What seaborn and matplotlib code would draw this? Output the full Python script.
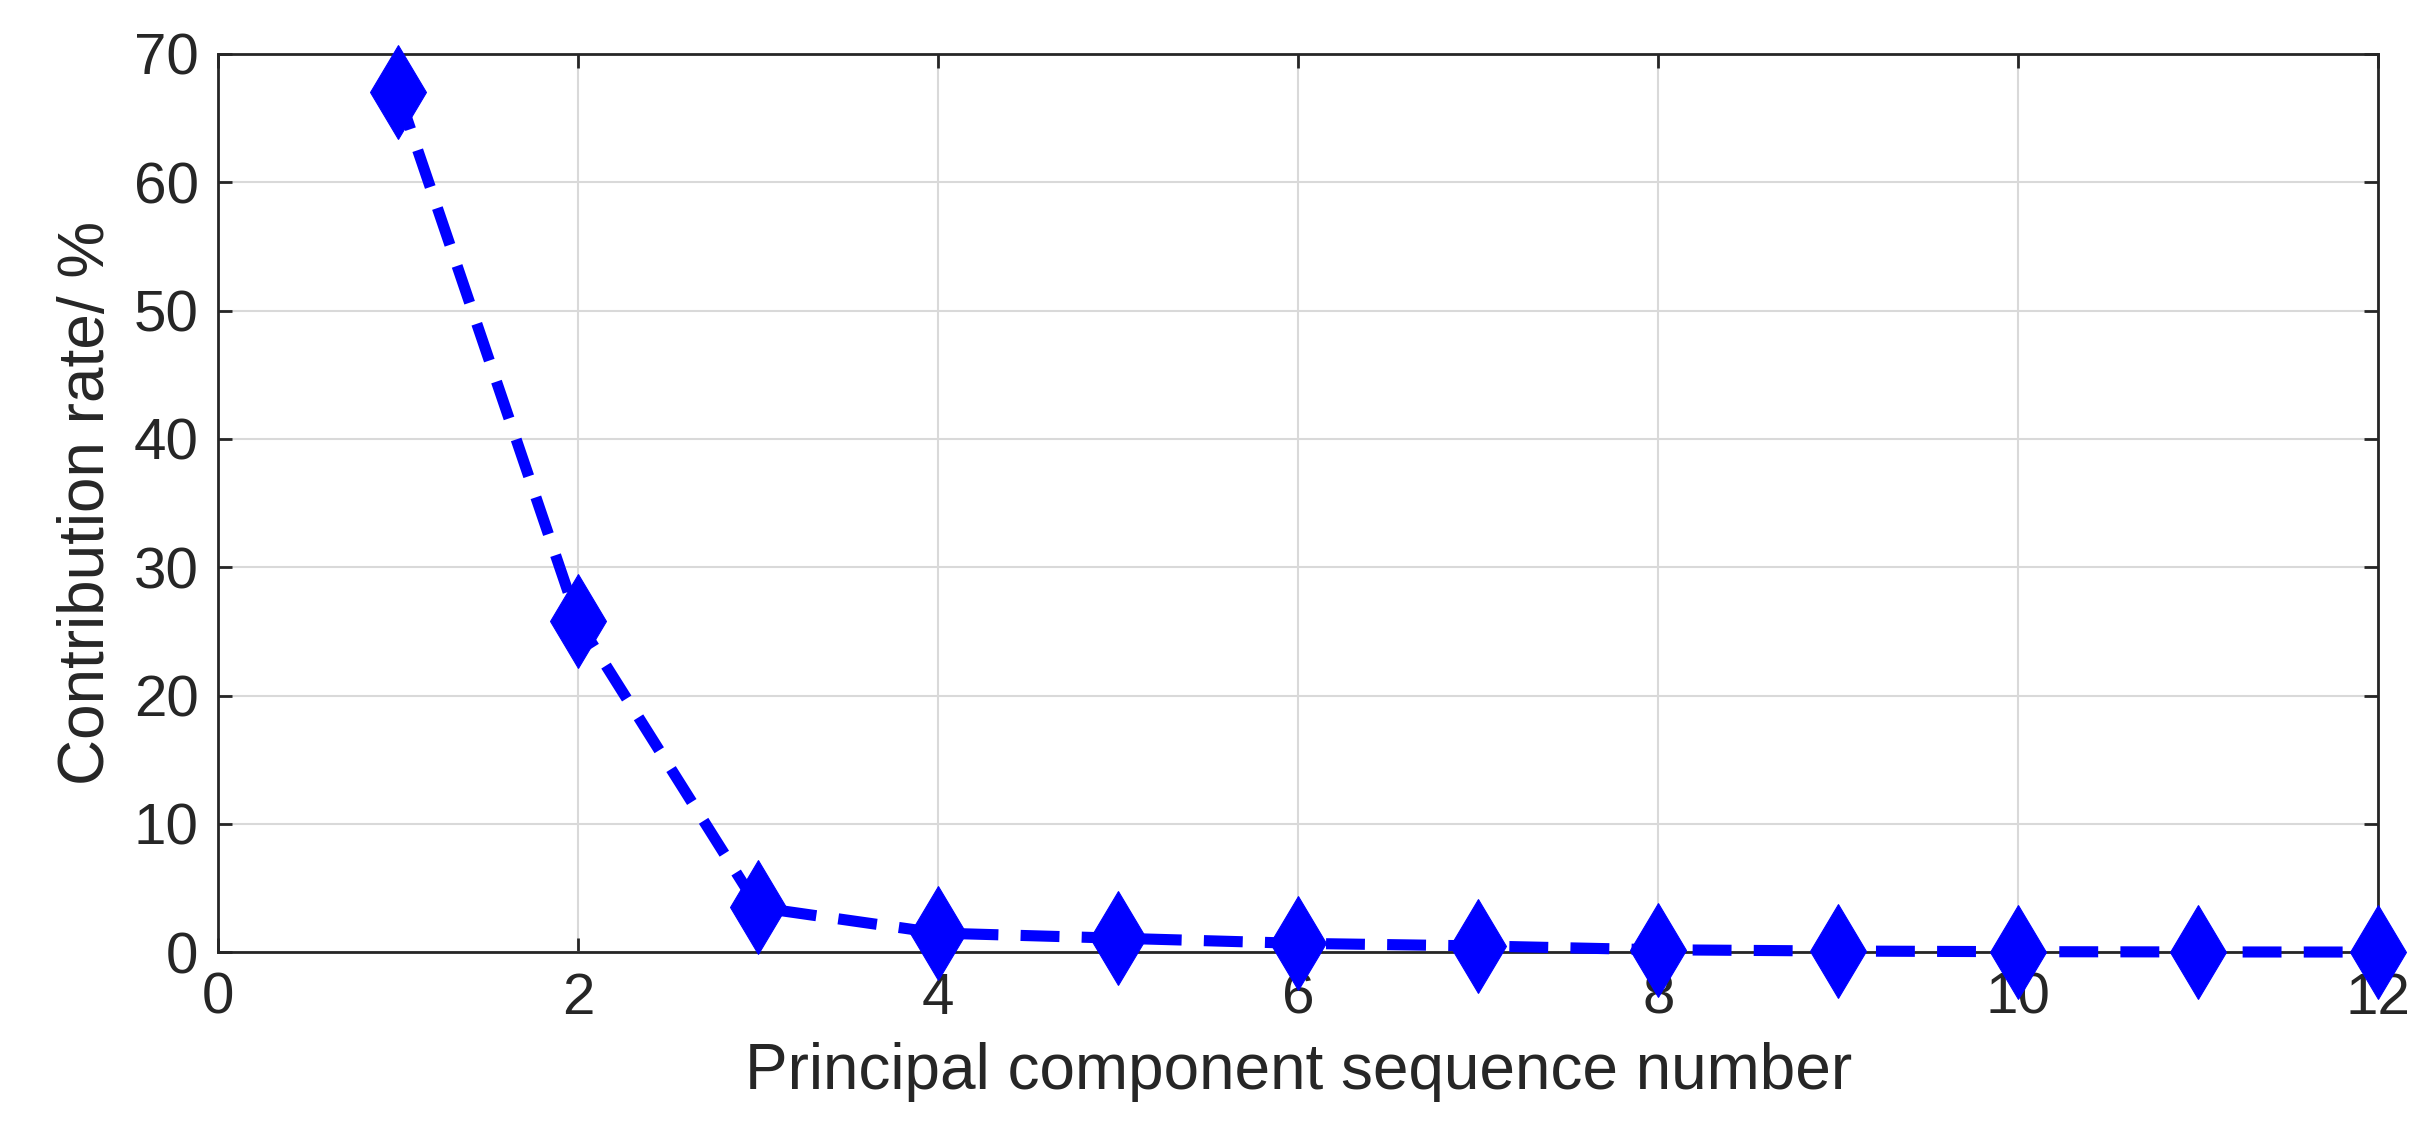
import numpy as np
import pandas as pd
import matplotlib
matplotlib.use("Agg")
import matplotlib.pyplot as plt
import seaborn as sns

components = [1, 2, 3, 4, 5, 6, 7, 8, 9, 10, 11, 12]
contribution = [67.0, 25.8, 3.5, 1.5, 1.1, 0.7, 0.5, 0.2, 0.1, 0.05, 0.03, 0.02]

sns.set_style("whitegrid")
plt.rcParams['font.family'] = ['Liberation Sans', 'DejaVu Sans']

df = pd.DataFrame({"pc": components, "rate": contribution})

fig, ax = plt.subplots(figsize=(24.22, 11.46), dpi=100)
fig.subplots_adjust(left=0.09, right=0.982, top=0.953, bottom=0.169)

sns.lineplot(data=df, x="pc", y="rate", ax=ax, color="#0000ff", linewidth=8,
             linestyle=(0, (3.5, 2)), marker="d", markersize=48, markeredgecolor="#0000ff",
             clip_on=False, zorder=5)

ax.set_xlim(0, 12)
ax.set_ylim(0, 70)
ax.set_xticks(range(0, 13, 2))
ax.set_yticks(range(0, 71, 10))
ax.grid(True, color="#d9d9d9", linewidth=1.5)
for s in ax.spines.values():
    s.set_color("#262626")
    s.set_linewidth(2)
ax.tick_params(axis="both", labelsize=42, colors="#262626", direction="in", length=10, width=2,
               top=True, right=True, left=True, bottom=True, pad=14)
ax.set_xlabel("Principal component sequence number", fontsize=46, color="#262626", labelpad=12)
ax.set_ylabel("Contribution rate/ %", fontsize=46, color="#262626", labelpad=12)

fig.savefig("out.png", dpi=100)
